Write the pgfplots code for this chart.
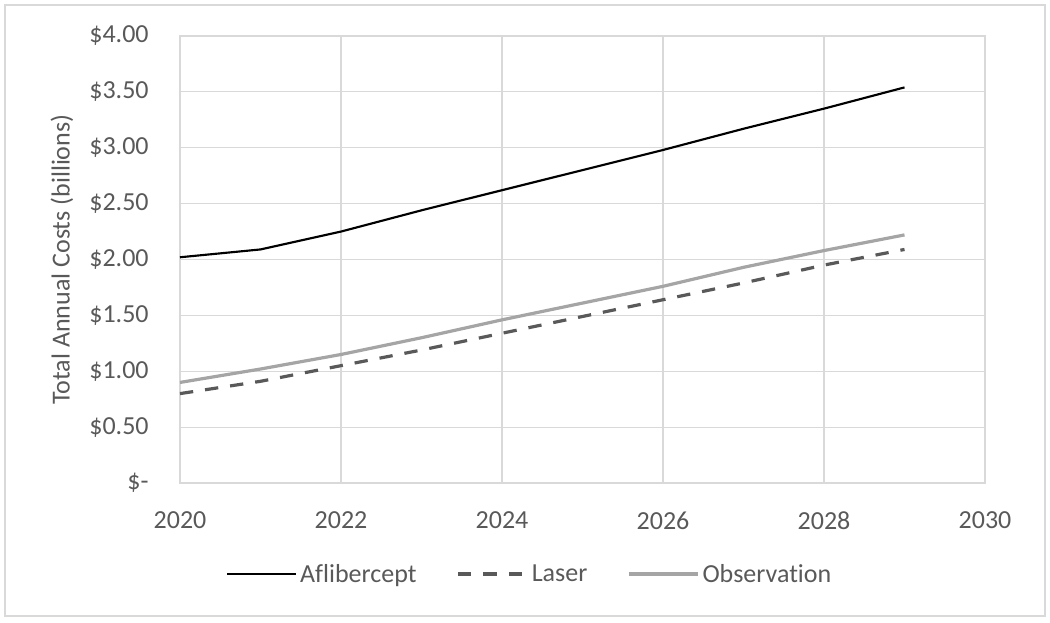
\documentclass[border=0pt]{standalone}
\usepackage{pgfplots}
\pgfplotsset{compat=1.18}
\usepackage{fontspec}
\setmainfont{Carlito}[Ligatures={NoCommon}]
\definecolor{txt}{HTML}{595959}
\definecolor{gridc}{HTML}{D9D9D9}
\definecolor{laser}{HTML}{595959}
\definecolor{obs}{HTML}{A5A5A5}
\begin{document}
\begin{tikzpicture}
\useasboundingbox (-135pt,-104.25pt) rectangle (652.5pt,362.25pt);
\draw[gridc, line width=0.9pt] (-131.25pt,-99.75pt) rectangle (648.75pt,358.5pt);
\begin{axis}[
  scale only axis,
  width=603.75pt, height=335.25pt,
  xmin=2020, xmax=2030, ymin=0, ymax=4,
  xtick={2020,2022,...,2030},
  ytick={0,0.5,...,4},
  yticklabels={\$-,\$0.50,\$1.00,\$1.50,\$2.00,\$2.50,\$3.00,\$3.50,\$4.00},
  xticklabel style={/pgf/number format/1000 sep={}, text=txt, font=\fontsize{19.5}{22}\selectfont, yshift=-18pt},
  yticklabel style={text=txt, font=\fontsize{19.5}{22}\selectfont, xshift=-20pt},
  /pgf/number format/assume math mode=true,
  grid=major,
  major grid style={draw=gridc, line width=0.8pt},
  axis line style={draw=gridc, line width=0.8pt},
  tick style={draw=none},
  ylabel={Total Annual Costs (billions)},
  ylabel style={text=txt, font=\fontsize{19.5}{22}\selectfont, at={(rel axis cs:0,0.5)}, anchor=center, yshift=88.5pt},
  legend style={at={(rel axis cs:0.4348,-0.2036)}, anchor=center, draw=none, fill=none,
    font=\fontsize{19.5}{22}\selectfont, text=txt, legend columns=3,
    /tikz/every even column/.append style={column sep=28pt}},
  legend image code/.code={\draw[#1] (0pt,0pt) -- (52pt,0pt);},
]
\addplot[black, line width=1.6pt] coordinates {
(2020,2.02) (2021,2.09) (2022,2.25) (2023,2.44) (2024,2.62) (2025,2.80) (2026,2.98) (2027,3.17) (2028,3.35) (2029,3.54)};
\addlegendentry{Aflibercept}
\addplot[laser, line width=2.4pt, dash pattern=on 10pt off 9pt] coordinates {
(2020,0.80) (2021,0.91) (2022,1.05) (2023,1.19) (2024,1.34) (2025,1.49) (2026,1.64) (2027,1.79) (2028,1.95) (2029,2.09)};
\addlegendentry{Laser}
\addplot[obs, line width=2.4pt] coordinates {
(2020,0.90) (2021,1.02) (2022,1.15) (2023,1.30) (2024,1.46) (2025,1.61) (2026,1.76) (2027,1.93) (2028,2.08) (2029,2.22)};
\addlegendentry{Observation}
\end{axis}
\end{tikzpicture}
\end{document}
